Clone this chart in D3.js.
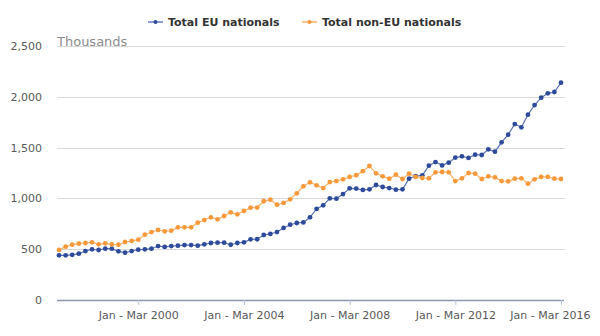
<!DOCTYPE html>
<html>
<head>
<meta charset="utf-8">
<script src="https://cdn.jsdelivr.net/npm/d3@7"></script>
<style>
html,body{margin:0;padding:0;background:#fff;}
svg{display:block;font-family:"DejaVu Sans",sans-serif;}
</style>
</head>
<body>
<svg id="chart" width="600" height="336"></svg>
<script>
// Quarterly periods Jan-Mar 1997 .. Jan-Mar 2016
const quarterNames = ["Jan - Mar", "Apr - Jun", "Jul - Sep", "Oct - Dec"];
const periods = [];
for (let y = 1997; y <= 2016; y++) {
  for (let q = 0; q < 4; q++) {
    if (y === 2016 && q > 0) break;
    periods.push(quarterNames[q] + " " + y);
  }
}
const tickLabels = ["Jan - Mar 2000", "Jan - Mar 2004", "Jan - Mar 2008", "Jan - Mar 2012", "Jan - Mar 2016"];
const yTicks = [0, 500, 1000, 1500, 2000, 2500];

const euValues = [
  440, 440, 445, 456, 482, 499, 492, 505, 505, 479, 466, 482, 495, 499, 505, 531,
  522, 531, 535, 541, 541, 535, 548, 561, 564, 564, 544, 561, 568, 597, 598, 640,
  650, 669, 709, 741, 758, 764, 814, 896, 932, 1001, 997, 1043, 1099, 1097, 1083,
  1089, 1132, 1112, 1102, 1086, 1089, 1194, 1220, 1227, 1322, 1358, 1325, 1352,
  1402, 1414, 1398, 1430, 1427, 1483, 1460, 1552, 1627, 1732, 1700, 1824, 1919,
  1991, 2034, 2047, 2139
];
const nonEuValues = [
  492, 525, 544, 554, 561, 568, 548, 558, 548, 544, 571, 581, 594, 643, 669, 689,
  676, 682, 715, 715, 715, 761, 787, 814, 794, 827, 863, 843, 876, 909, 910, 972,
  987, 938, 955, 991, 1050, 1119, 1158, 1129, 1102, 1161, 1171, 1188, 1211, 1228, 1268,
  1319, 1247, 1217, 1194, 1234, 1191, 1243, 1211, 1201, 1198, 1257, 1260, 1257,
  1171, 1198, 1250, 1243, 1191, 1217, 1207, 1171, 1168, 1194, 1198, 1145, 1188,
  1211, 1211, 1194, 1191
];

const seriesNames = ["Total EU nationals", "Total non-EU nationals"];
const seriesColors = ["#2d4a9b", "#f7993b"];
const lineColors = ["#5a73b8", "#f9b26a"];

const svg = d3.select("#chart");
const plotLeft = 57, plotRight = 565, plotTop = 46, plotBottom = 300;

const x = d3.scalePoint().domain(periods).range([59, 561]);
const y = d3.scaleLinear().domain([0, 2500]).range([plotBottom, plotTop]);

// gridlines
svg.append("g").selectAll("line").data(yTicks.filter(d => d > 0)).join("line")
  .attr("x1", plotLeft).attr("x2", plotRight)
  .attr("y1", d => Math.round(y(d)) + 0.5).attr("y2", d => Math.round(y(d)) + 0.5)
  .attr("stroke", "#d9d9d9").attr("stroke-width", 1);

// y axis labels
const yAxis = d3.axisLeft(y).tickValues(yTicks).tickSize(0).tickPadding(0)
  .tickFormat(d3.format(","));
const gy = svg.append("g").attr("transform", "translate(42,0)").call(yAxis);
gy.select(".domain").remove();
gy.selectAll("text").attr("fill", "#595959").style("font-size", "11px")
  .style("font-family", "'DejaVu Sans',sans-serif");

// x axis
const xAxis = d3.axisBottom(x).tickValues(tickLabels).tickSize(5).tickPadding(6);
const gx = svg.append("g").attr("transform", `translate(0,${plotBottom})`).call(xAxis);
gx.select(".domain").attr("d", `M${plotLeft},0.5H${plotRight - 1}`)
  .attr("stroke", "#8a96ab").attr("stroke-width", 1.5);
gx.selectAll(".tick line").attr("stroke", "#b8c4d8");
gx.selectAll(".tick text").attr("fill", "#595959").style("font-size", "11px")
  .style("font-family", "'DejaVu Sans',sans-serif");
// keep the last label inside the picture
gx.selectAll(".tick text").filter(d => d === tickLabels[tickLabels.length - 1])
  .attr("text-anchor", "end").attr("x", 29);

// Thousands label
svg.append("text").attr("x", 57).attr("y", 46).text("Thousands")
  .attr("fill", "#8c8c8c").style("font-size", "13px");

// series
const allSeries = [euValues, nonEuValues];
const line = d3.line().x((d, i) => x(periods[i])).y(d => y(d));
allSeries.forEach((vals, s) => {
  const g = svg.append("g");
  g.append("path").datum(vals).attr("d", line)
    .attr("fill", "none").attr("stroke", lineColors[s]).attr("stroke-width", 1.2);
  g.selectAll("circle").data(vals).join("circle")
    .attr("cx", (d, i) => x(periods[i])).attr("cy", d => y(d)).attr("r", 2.4)
    .attr("fill", seriesColors[s]);
});

// legend
const legendX = [148, 302];
seriesNames.forEach((name, s) => {
  const lg = svg.append("g").attr("transform", `translate(${legendX[s]},22)`);
  lg.append("line").attr("x1", 0).attr("x2", 15).attr("y1", 0).attr("y2", 0)
    .attr("stroke", s === 0 ? "#8b9dd0" : "#fbc48c").attr("stroke-width", 2);
  lg.append("circle").attr("cx", 7.5).attr("cy", 0).attr("r", 2).attr("fill", seriesColors[s]);
  lg.append("text").attr("x", 20).attr("y", 4).text(name)
    .attr("fill", "#333").style("font-size", "11px").style("font-weight", "bold");
});
</script>
</body>
</html>
